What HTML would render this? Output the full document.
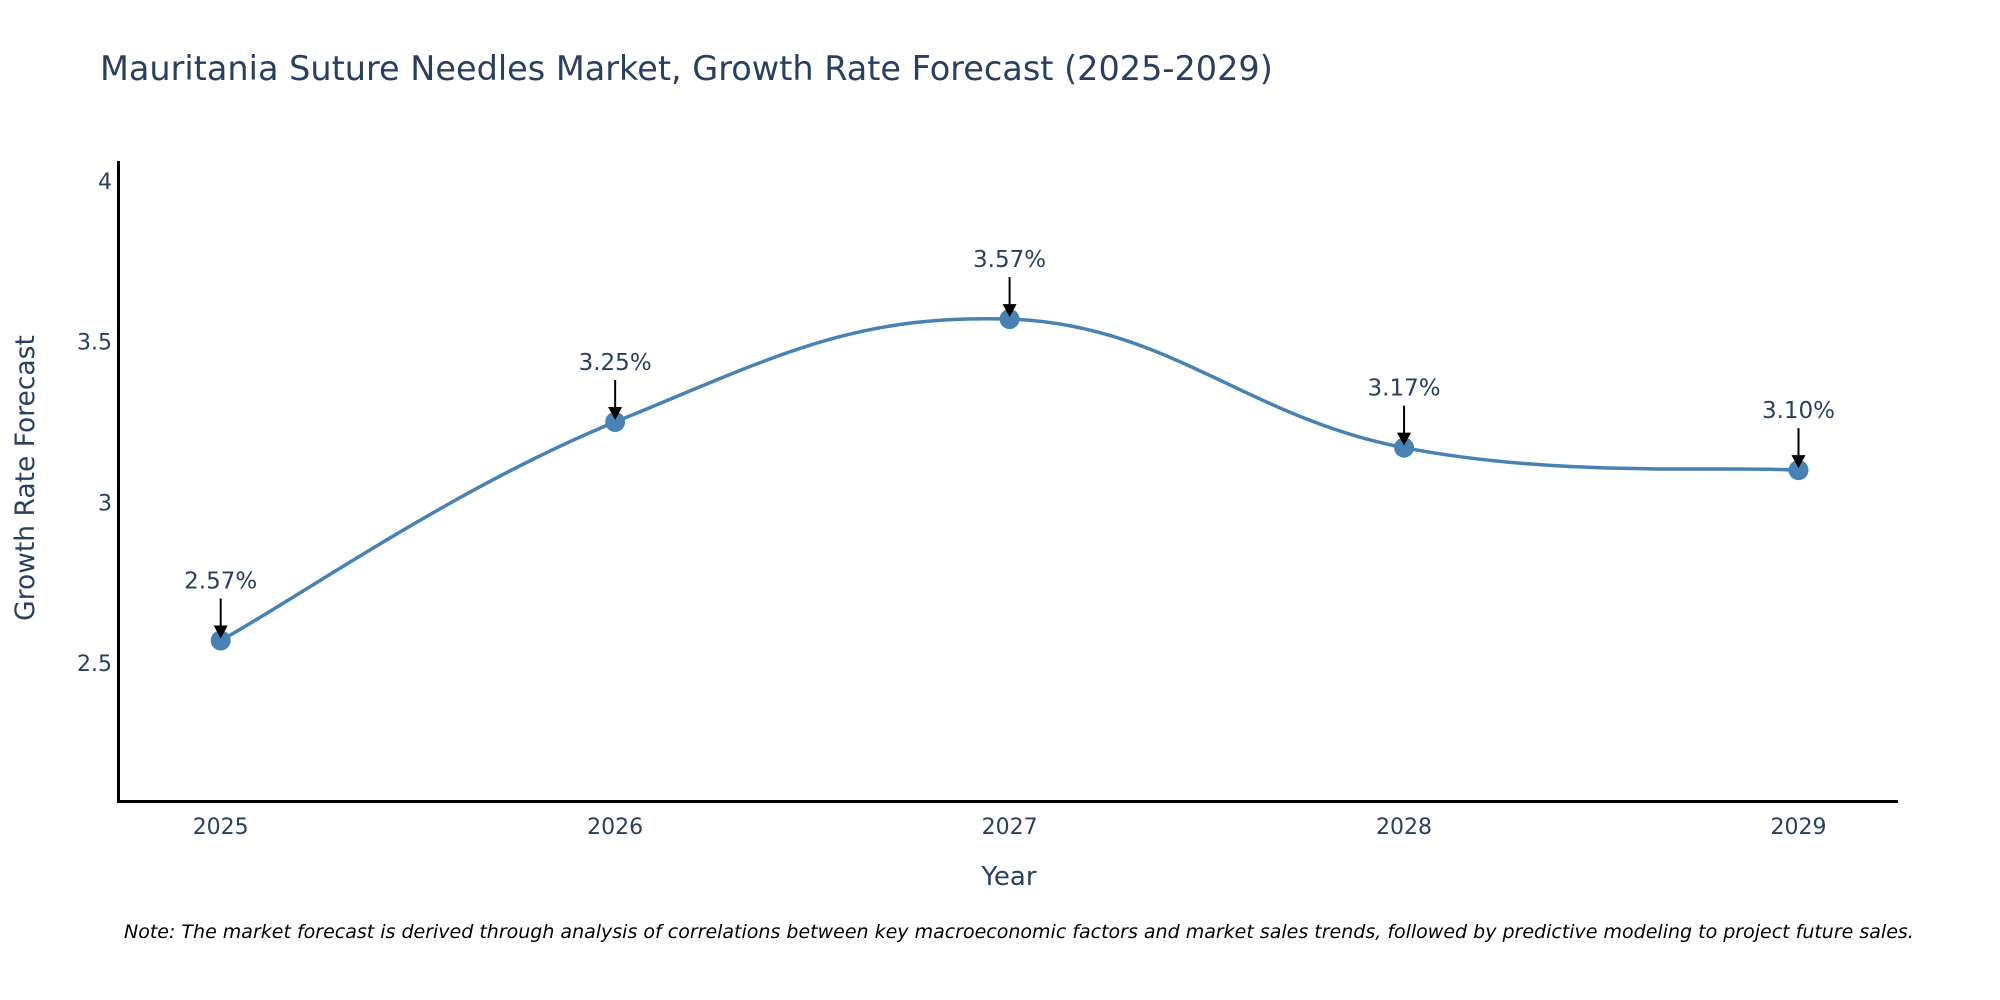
<!DOCTYPE html>
<html><head><meta charset="utf-8"><style>
body{margin:0;background:#fff;}
svg{display:block;font-family:"DejaVu Sans","Liberation Sans",sans-serif;}
</style></head><body>
<svg id="chart" width="2000" height="1000" viewBox="0 0 2000 1000">
<text x="100" y="80" font-size="33.5" fill="#2a3f5f">Mauritania Suture Needles Market, Growth Rate Forecast (2025-2029)</text>
<g id="yticks"></g>
<g id="xticks"></g>
<line x1="118.5" y1="161" x2="118.5" y2="802" stroke="#000" stroke-width="3"/>
<line x1="117" y1="801.5" x2="1898" y2="801.5" stroke="#000" stroke-width="3"/>
<path id="line" fill="none" stroke="#4682b4" stroke-width="3.5"/>
<g id="points"></g>
<g id="annots"></g>
<text x="1009" y="885" font-size="26" fill="#2a3f5f" text-anchor="middle">Year</text>
<text transform="translate(34,478) rotate(-90)" font-size="26.5" fill="#2a3f5f" text-anchor="middle">Growth Rate Forecast</text>
<text x="124" y="938" font-size="19" font-style="italic" fill="#000">Note: The market forecast is derived through analysis of correlations between key macroeconomic factors and market sales trends, followed by predictive modeling to project future sales.</text>
</svg>
<script>
const years = [2025, 2026, 2027, 2028, 2029];
const values = [2.57, 3.25, 3.57, 3.17, 3.10];
const labels = ["2.57%", "3.25%", "3.57%", "3.17%", "3.10%"];
const yTicks = [2.5, 3, 3.5, 4];
const yTickLabels = ["2.5", "3", "3.5", "4"];

const NS = "http://www.w3.org/2000/svg";
function xs(v){ return 220.7 + (v - 2025) * 394.45; }
function ys(v){ return 663 - (v - 2.5) * 321.4; }
function mk(tag, attrs, parent){ const e=document.createElementNS(NS,tag); for(const k in attrs) e.setAttribute(k,attrs[k]); parent.appendChild(e); return e; }

const yt=document.getElementById('yticks');
yTicks.forEach((t,i)=>{
  const e=mk('text',{x:112,y:ys(t)+8,'font-size':22,fill:'#2a3f5f','text-anchor':'end'},yt);
  
  
  e.textContent=yTickLabels[i];
});
const xt=document.getElementById('xticks');
years.forEach(y=>{
  const e=mk('text',{x:xs(y),y:834,'font-size':22,fill:'#2a3f5f','text-anchor':'middle'},xt);
  
  
  e.textContent=String(y);
});

const P=years.map((y,i)=>[xs(y),ys(values[i])]);
let d=`M${P[0][0]},${P[0][1]}`;
const t=0.2;
for(let i=0;i<P.length-1;i++){
  const p0=P[i-1]||P[i], p1=P[i], p2=P[i+1], p3=P[i+2]||P[i+1];
  const c1=[p1[0]+(p2[0]-p0[0])*t, p1[1]+(p2[1]-p0[1])*t];
  const c2=[p2[0]-(p3[0]-p1[0])*t, p2[1]-(p3[1]-p1[1])*t];
  d+=` C${c1[0]},${c1[1]} ${c2[0]},${c2[1]} ${p2[0]},${p2[1]}`;
}
document.getElementById('line').setAttribute('d',d);

const pts=document.getElementById('points');
const an=document.getElementById('annots');
P.forEach((p,i)=>{
  const c=mk('circle',{cx:p[0],cy:p[1],r:10,fill:'#4682b4'},pts);
  
  
  const l=mk('line',{x1:p[0],y1:p[1]-42,x2:p[0],y2:p[1]-14,stroke:'#000','stroke-width':2},an);
  
  
  const h=mk('path',{d:`M${p[0]-7},${p[1]-15} L${p[0]+7},${p[1]-15} L${p[0]},${p[1]-2} Z`,fill:'#000'},an);
  
  
  const tx=mk('text',{x:p[0],y:p[1]-52,'font-size':23,fill:'#2a3f5f','text-anchor':'middle'},an);
  
  
  tx.textContent=labels[i];
});
</script>
</body></html>
